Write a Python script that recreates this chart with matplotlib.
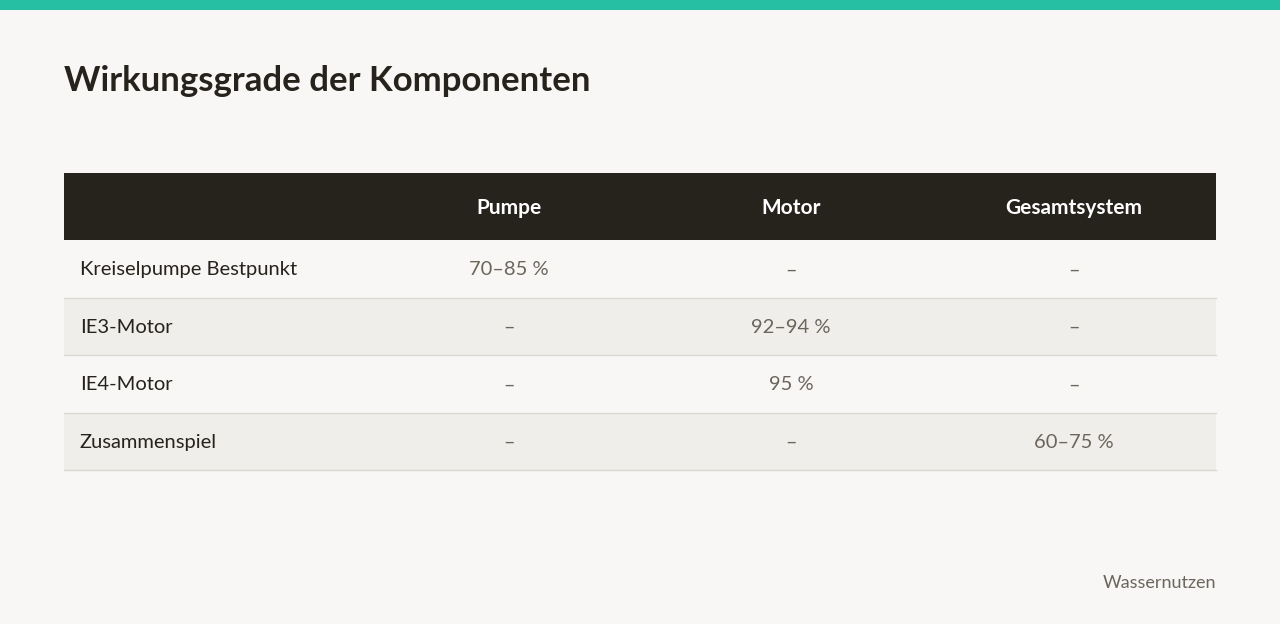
import matplotlib.pyplot as plt
from matplotlib.patches import Rectangle

plt.rcParams['font.family'] = ['Lato', 'DejaVu Sans']

title = "Wirkungsgrade der Komponenten"
columns = ["Pumpe", "Motor", "Gesamtsystem"]
rows = ["Kreiselpumpe Bestpunkt", "IE3-Motor", "IE4-Motor", "Zusammenspiel"]
cells = [
    ["70–85 %", "–", "–"],
    ["–", "92–94 %", "–"],
    ["–", "95 %", "–"],
    ["–", "–", "60–75 %"],
]
source = "Wassernutzen"

bg = "#f8f7f5"
fig = plt.figure(figsize=(12.8, 6.24), dpi=100, facecolor=bg)
ax = fig.add_axes([0, 0, 1, 1])
ax.set_xlim(0, 1280)
ax.set_ylim(624, 0)
ax.axis("off")

# top accent bar
ax.add_patch(Rectangle((0, 0), 1280, 10, color="#26bfa3", lw=0))

ax.text(64, 81, title, fontsize=25, fontweight="bold", color="#26221c",
        va="center", ha="left")

left, right = 64, 1216
col_x = [509, 791, 1074]
head_top, head_h = 173, 67
row_h = 57.5

ax.add_patch(Rectangle((left, head_top), right - left, head_h, color="#26221c", lw=0))
for x, c in zip(col_x, columns):
    ax.text(x, head_top + head_h / 2 + 1, c, fontsize=15, fontweight="bold",
            color="white", ha="center", va="center")

for i, (name, vals) in enumerate(zip(rows, cells)):
    y0 = head_top + head_h + i * row_h
    if i % 2 == 1:
        ax.add_patch(Rectangle((left, y0), right - left, row_h, color="#f0eeea", lw=0))
    ax.plot([left, right], [y0 + row_h, y0 + row_h], color="#dcd9d3", lw=1)
    yc = y0 + row_h / 2 + 1
    ax.text(80, yc, name, fontsize=14.5, color="#26221c", ha="left", va="center")
    for x, v in zip(col_x, vals):
        ax.text(x, yc, v, fontsize=14.5, color="#6b655c", ha="center", va="center")

ax.text(right, 583, source, fontsize=13, color="#6b655c", ha="right", va="center")

fig.savefig("out.png", dpi=100, facecolor=bg)
